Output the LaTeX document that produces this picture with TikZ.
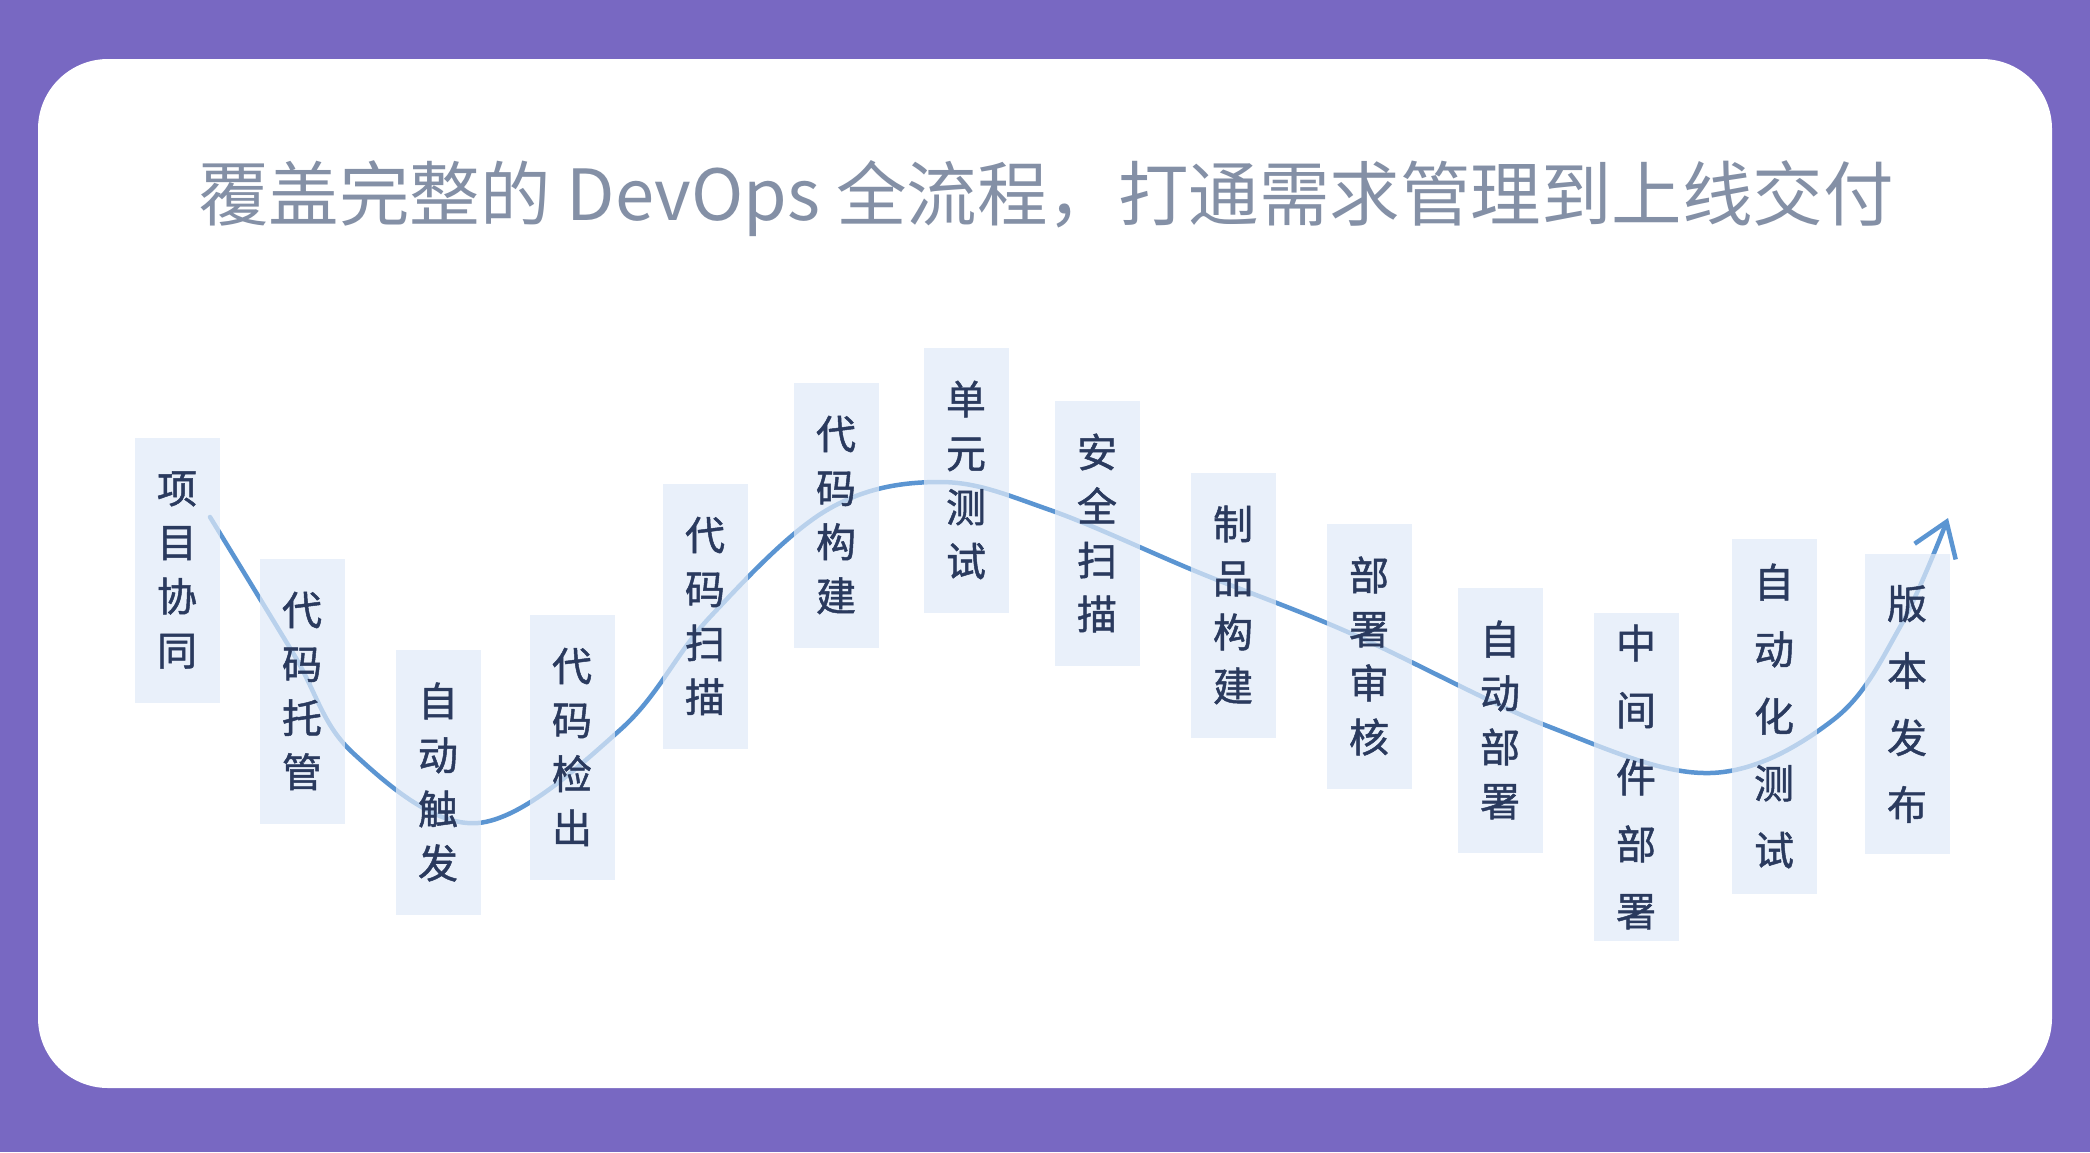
\documentclass[tikz,border=0pt]{standalone}
\usepackage{fontspec}
\usepackage{tikz}
\usetikzlibrary{arrows.meta}
\newfontfamily\cjk{Noto Sans CJK SC}
\newfontfamily\stagecjk{Noto Sans CJK SC}[FakeBold=1.2]
\definecolor{bgpurple}{HTML}{7868C2}
\definecolor{titlegray}{HTML}{8490A6}
\definecolor{stagefill}{HTML}{E1EBF8}
\definecolor{stagetext}{HTML}{2A3A5E}
\definecolor{waveblue}{HTML}{5B95D2}
\tikzset{
	stage/.style={fill=stagefill, fill opacity=0.7, text opacity=1, text=stagetext, align=center,
		minimum width=85pt, minimum height=265pt, inner sep=0pt, font=\stagecjk\fontsize{40}{54}\selectfont},
	widestage/.style={stage, font=\stagecjk\fontsize{40}{67}\selectfont},
	wave/.style={waveblue, line width=4.5pt, line cap=round, -{Straight Barb[length=32pt,width=44pt]}}
}

\begin{document}
\begin{tikzpicture}[x=1pt, y=-1pt]
			\useasboundingbox (0,0) rectangle (2090,1152);
			\fill[bgpurple] (0,0) rectangle (2090,1152);
			\fill[white, rounded corners=70pt] (38,59) rectangle (2052,1088);
			\node[text=titlegray, font=\cjk\fontsize{70.5}{84}\selectfont] (title) at (1046,199)
				{覆盖完整的 DevOps 全流程，打通需求管理到上线交付};
			\coordinate (start) at (210,517);
			\coordinate (tip) at (1948,518);
			\draw[wave] plot[smooth, tension=0.6] coordinates {(start) (293,653) (353,753) (478,823) (620,730) (710,617) (827,510) (940,482)
				(1050,510) (1200,573) (1350,633) (1550,727) (1710,773) (1833,720) (1900,627) (tip)};
			\node[stage] (s1) at (177,570) {项\\目\\协\\同};
			\node[stage] (s2) at (302,691) {代\\码\\托\\管};
			\node[stage] (s3) at (438,782) {自\\动\\触\\发};
			\node[stage] (s4) at (572,747) {代\\码\\检\\出};
			\node[stage] (s5) at (705,616) {代\\码\\扫\\描};
			\node[stage] (s6) at (836,515) {代\\码\\构\\建};
			\node[stage] (s7) at (966,480) {单\\元\\测\\试};
			\node[stage] (s8) at (1097,533) {安\\全\\扫\\描};
			\node[stage] (s9) at (1233,605) {制\\品\\构\\建};
			\node[stage] (s10) at (1369,656) {部\\署\\审\\核};
			\node[stage] (s11) at (1500,720) {自\\动\\部\\署};
			\node[widestage, minimum height=328pt] (s12) at (1636,777) {中\\间\\件\\部\\署};
			\node[widestage, minimum height=355pt] (s13) at (1774,716) {自\\动\\化\\测\\试};
			\node[widestage, minimum height=300pt] (s14) at (1907,704) {版\\本\\发\\布};
		\end{tikzpicture}
\end{document}
